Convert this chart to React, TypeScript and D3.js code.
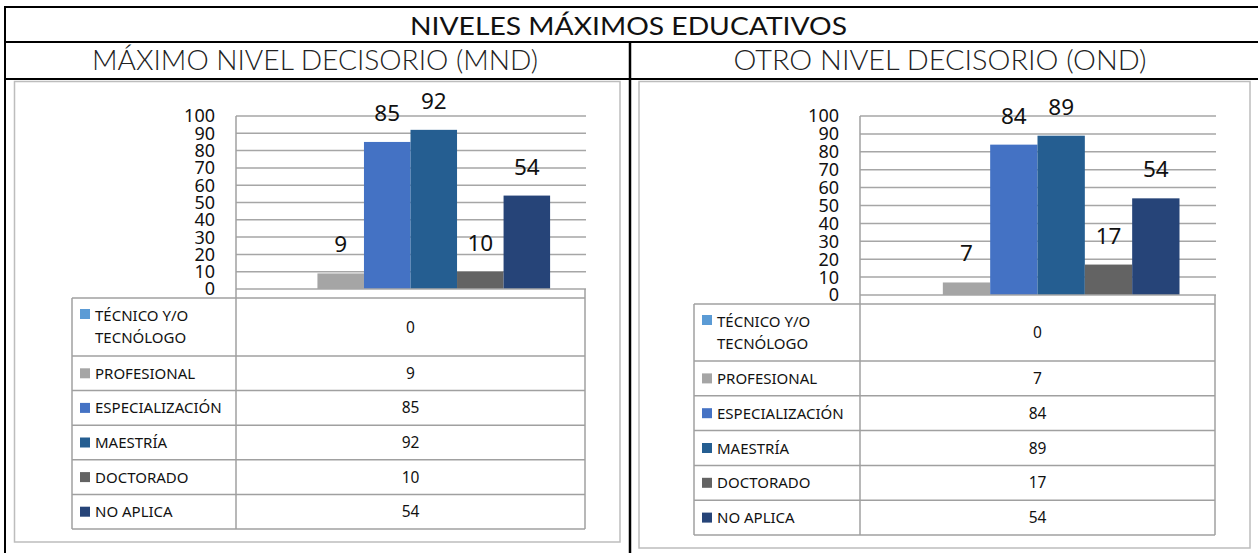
import React from 'react';
import * as d3 from 'd3';

// ---------- DATA ----------
const mainTitle = 'NIVELES MÁXIMOS EDUCATIVOS';
const panelTitles = ['MÁXIMO NIVEL DECISORIO (MND)', 'OTRO NIVEL DECISORIO (OND)'];
const categories = [''];
const seriesNames = ['TÉCNICO Y/O TECNÓLOGO', 'PROFESIONAL', 'ESPECIALIZACIÓN', 'MAESTRÍA', 'DOCTORADO', 'NO APLICA'];
const legendLines = [['TÉCNICO Y/O', 'TECNÓLOGO'], ['PROFESIONAL'], ['ESPECIALIZACIÓN'], ['MAESTRÍA'], ['DOCTORADO'], ['NO APLICA']];
const seriesColors = ['#5B9BD5', '#A5A5A5', '#4472C4', '#255E91', '#636363', '#264478'];
const mndValues = [0, 9, 85, 92, 10, 54];
const ondValues = [0, 7, 84, 89, 17, 54];
const yTicks = [0, 10, 20, 30, 40, 50, 60, 70, 80, 90, 100];
const panelValues = [mndValues, ondValues];

// ---------- LAYOUT ----------
const W = 1258;
const H = 553;
const layouts = [
  { box: [14.5, 81.5, 620, 542], axisX: 236, plotRight: 585, yTop: 116, yBottom: 289, labelRight: 215,
    tableLeft: 72, tableTop: 298, row1Bottom: 356, tableBottom: 529, titleX: 315, titleW: 446 },
  { box: [639, 81.5, 1250, 548], axisX: 860, plotRight: 1215, yTop: 116, yBottom: 295, labelRight: 839,
    tableLeft: 694, tableTop: 304, row1Bottom: 361, tableBottom: 535, titleX: 940, titleW: 413 },
];

const chartFont = "'Noto Sans', 'Liberation Sans', sans-serif";
const titleFont = "Lato, 'Noto Sans', sans-serif";
const gridColor = '#a6a6a6';
const tableColor = '#a0a0a0';

function Panel({ idx }: { idx: number }) {
  const L = layouts[idx];
  const values = panelValues[idx];
  const y = d3.scaleLinear().domain([0, 100]).range([L.yBottom, L.yTop]);
  const xCat = d3.scaleBand<string>().domain(categories).range([L.axisX, L.plotRight]).paddingInner(0).paddingOuter(0.125);
  const x0 = xCat(categories[0]) as number;
  const xSer = d3.scaleBand<string>().domain(seriesNames).range([x0, x0 + xCat.bandwidth()]).padding(0);

  const rowH = (L.tableBottom - L.row1Bottom) / 5;
  const rowTops = seriesNames.map((_, i) => (i === 0 ? L.tableTop : L.row1Bottom + (i - 1) * rowH));
  const rowBottoms = seriesNames.map((_, i) => (i === 0 ? L.row1Bottom : L.row1Bottom + i * rowH));
  const valueX = (L.axisX + L.plotRight) / 2;
  const [bx0, by0, bx1, by1] = L.box;

  return (
    <g>
      <rect x={bx0} y={by0} width={bx1 - bx0} height={by1 - by0} fill="#fff" stroke="#bdbdbd" strokeWidth={1.5} />
      {/* gridlines */}
      {yTicks.filter((t) => t > 0).map((t) => (
        <line key={'g' + t} x1={L.axisX} x2={L.plotRight + 1} y1={y(t)} y2={y(t)} stroke={gridColor} strokeWidth={1.5} />
      ))}
      {/* bars */}
      {seriesNames.map((s, i) =>
        values[i] > 0 ? (
          <rect key={'b' + s} x={xSer(s)} y={y(values[i])} width={xSer.bandwidth()} height={y(0) - y(values[i])} fill={seriesColors[i]} />
        ) : null
      )}
      {/* data labels */}
      {seriesNames.map((s, i) =>
        values[i] > 0 ? (
          <text key={'l' + s} x={(xSer(s) as number) + xSer.bandwidth() / 2} y={y(values[i]) - 21} textAnchor="middle"
            fontFamily={chartFont} fontSize={22.5} fill="#111">{values[i]}</text>
        ) : null
      )}
      {/* axis line at 0 */}
      <line x1={L.axisX} x2={L.plotRight + 1} y1={y(0)} y2={y(0)} stroke={gridColor} strokeWidth={1.5} />
      {/* y tick labels */}
      {yTicks.map((t) => (
        <text key={'t' + t} x={L.labelRight} y={y(t) + 6.4} textAnchor="end" fontFamily={chartFont} fontSize={18} fill="#111">{t}</text>
      ))}
      {/* table */}
      <line x1={L.axisX} x2={L.axisX} y1={L.yTop} y2={L.tableBottom} stroke={tableColor} strokeWidth={1.5} />
      <line x1={L.plotRight} x2={L.plotRight} y1={y(0)} y2={L.tableBottom} stroke={tableColor} strokeWidth={1.5} />
      <line x1={L.tableLeft} x2={L.tableLeft} y1={L.tableTop} y2={L.tableBottom} stroke={tableColor} strokeWidth={1.5} />
      <line x1={L.tableLeft} x2={L.plotRight} y1={L.tableTop} y2={L.tableTop} stroke={tableColor} strokeWidth={1.5} />
      {rowBottoms.map((rb, i) => (
        <line key={'r' + i} x1={L.tableLeft} x2={L.plotRight} y1={rb} y2={rb} stroke={tableColor} strokeWidth={1.5} />
      ))}
      {seriesNames.map((s, i) => {
        const top = rowTops[i];
        const bot = rowBottoms[i];
        const c = (top + bot) / 2;
        const lines = legendLines[i];
        const keyY = lines.length > 1 ? top + 11 : c - 5;
        return (
          <g key={'row' + s}>
            <rect x={L.tableLeft + 8} y={keyY} width={10} height={10} fill={seriesColors[i]} />
            {lines.map((ln, j) => (
              <text key={j} x={L.tableLeft + 23} y={lines.length > 1 ? top + 23 + j * 22 : c + 5.5}
                fontFamily={chartFont} fontSize={15} fill="#111">{ln}</text>
            ))}
            <text x={valueX} y={c + 5.5} textAnchor="middle" fontFamily={chartFont} fontSize={15.5} fill="#111">{values[i]}</text>
          </g>
        );
      })}
      {/* panel title */}
      <text x={L.titleX} y={70} textAnchor="middle" fontFamily={titleFont} fontWeight={300} fontSize={27}
        textLength={L.titleW} lengthAdjust="spacingAndGlyphs" fill="#222">{panelTitles[idx]}</text>
    </g>
  );
}

export default function App() {
  return (
    <svg width={W} height={H} style={{ position: 'absolute', left: 0, top: 0, background: '#fff' }}>
      <rect x={0} y={0} width={W} height={H} fill="#fff" />
      <Panel idx={0} />
      <Panel idx={1} />
      <text x={628.5} y={35} textAnchor="middle" fontFamily={titleFont} fontSize={25} textLength={437}
        lengthAdjust="spacingAndGlyphs" fill="#111">{mainTitle}</text>
      {/* black frame lines */}
      <line x1={4} x2={W} y1={7} y2={7} stroke="#000" strokeWidth={2} />
      <line x1={4} x2={W} y1={42} y2={42} stroke="#000" strokeWidth={2} />
      <line x1={4} x2={W} y1={79} y2={79} stroke="#000" strokeWidth={2} />
      <line x1={5} x2={5} y1={6} y2={H} stroke="#000" strokeWidth={2} />
      <line x1={630} x2={630} y1={42} y2={H} stroke="#000" strokeWidth={2.5} />
    </svg>
  );
}
